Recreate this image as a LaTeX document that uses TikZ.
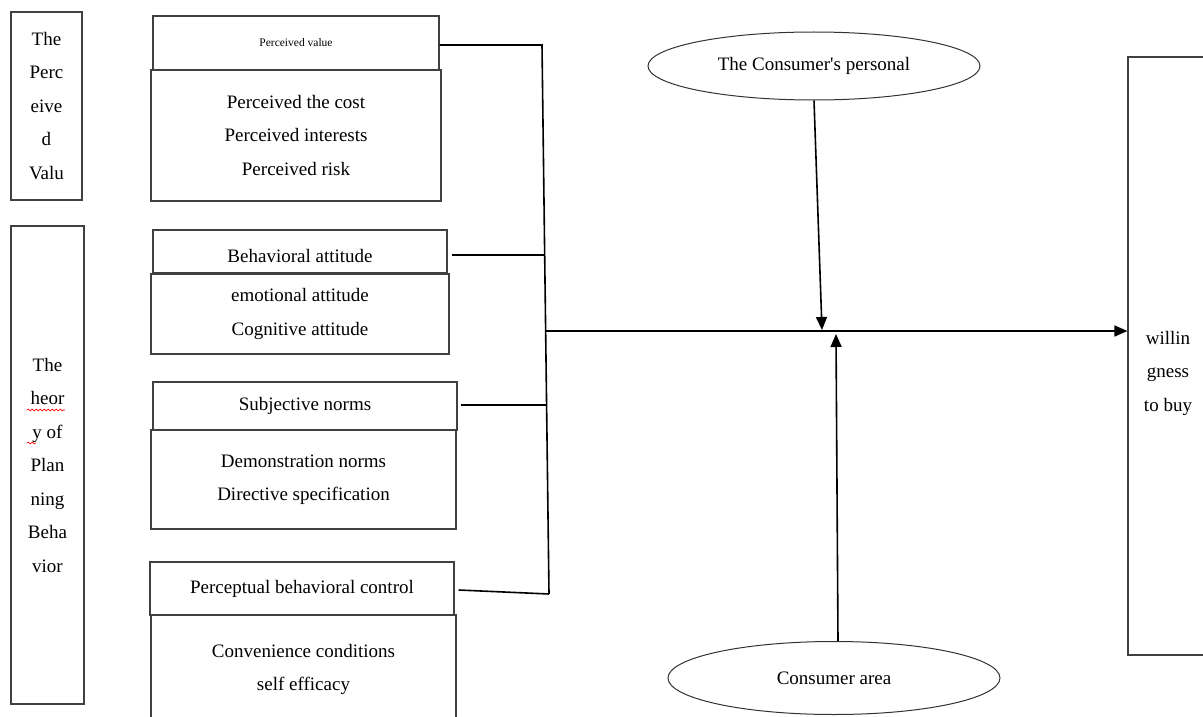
\documentclass[tikz,border=0pt]{standalone}
\usepackage{fontspec}
\setmainfont{Liberation Serif}
\usetikzlibrary{arrows.meta,shapes.geometric,decorations.pathmorphing}
\newcommand\dgfont{\fontsize{19}{33.5}\selectfont}
\newcommand\dgsmall{\fontsize{11.5}{14}\selectfont}
\newcommand\dglow[1]{\raisebox{-5pt}[\height][\depth]{#1}}
\begin{document}
\begin{tikzpicture}[x=1pt,y=-1pt,
  box/.style={draw=black!75, line width=1.1pt, rectangle, inner sep=0pt, align=center, font=\dgfont},
  ell/.style={draw=black!80, line width=1pt, ellipse, inner sep=0pt, font=\dgfont},
  conn/.style={draw=black, line width=1.6pt},
  arr/.style={conn, -{Triangle[length=13pt,width=11pt]}},
  spell/.style={draw=red, line width=0.7pt, decorate, decoration={snake, segment length=4pt, amplitude=0.9pt}}
]
\useasboundingbox (0,0) rectangle (1203,717);
\clip (0,0) rectangle (1203,717);
\fill[white] (0,0) rectangle (1203,717);

% left column
\node[box, minimum width=71pt, minimum height=188pt] (pv) at (46.5,106) {The\\Perc\\eive\\d\\Valu};
\node[box, minimum width=73pt, minimum height=478pt] (tpb) at (47.5,465) {The\\heor\\y of\\Plan\\ning\\Beha\\vior};
\draw[spell] (27,410) -- (65,410);
\draw[spell] (27,443) -- (36,443);

% factor boxes
\node[box, minimum width=286pt, minimum height=54pt, font=\dgsmall] (h1) at (296,43) {Perceived value};
\node[box, minimum width=290pt, minimum height=131pt] (b1) at (296,135.5) {Perceived the cost\\Perceived interests\\Perceived risk};
\node[box, minimum width=294pt, minimum height=43pt] (h2) at (300,251.5) {\dglow{Behavioral attitude}};
\node[box, minimum width=298pt, minimum height=80pt] (b2) at (300,314) {emotional attitude\\Cognitive attitude};
\node[box, minimum width=304pt, minimum height=48pt] (h3) at (305,406) {Subjective norms};
\node[box, minimum width=305pt, minimum height=99pt] (b3) at (303.5,479.5) {Demonstration norms\\Directive specification};
\node[box, minimum width=304pt, minimum height=53pt] (h4) at (302,588.5) {Perceptual behavioral control};
\node[box, minimum width=305pt, minimum height=109pt] (b4) at (303.5,669.5) {Convenience conditions\\self efficacy};

% right box
\node[box, minimum width=122pt, minimum height=598pt] (wb) at (1189,356) {};
\node[font=\dgfont, align=center, inner sep=0pt] (wt) at (1168,373) {willin\\gness\\to buy};

% ellipses
\node[ell, minimum width=332pt, minimum height=68pt] (cp) at (814,66) {The Consumer\textquotesingle s personal};
\node[ell, minimum width=332pt, minimum height=73pt] (ca) at (834,678) {Consumer area};

% connectors
\coordinate (bt) at (542,45);
\coordinate (bb) at (549,594);
\coordinate (c2) at (545,255);
\coordinate (c3) at (546,405);
\coordinate (jm) at (546,331);
\coordinate (dtip) at (822,330);
\coordinate (utip) at (836,334);

\draw[conn] (h1.east |- bt) -- (bt) -- (bb);
\draw[conn] ([xshift=4pt]h2.east |- c2) -- (c2);
\draw[conn] ([xshift=3pt]h3.east |- c3) -- (c3);
\draw[conn] ([xshift=4pt,yshift=-1.5pt]h4.east) -- (bb);
\draw[arr] (jm) -- (wb.west |- jm);
\draw[arr] (cp.south) -- (dtip);
\draw[arr] ([xshift=4pt]ca.north) -- (utip);
\end{tikzpicture}
\end{document}
